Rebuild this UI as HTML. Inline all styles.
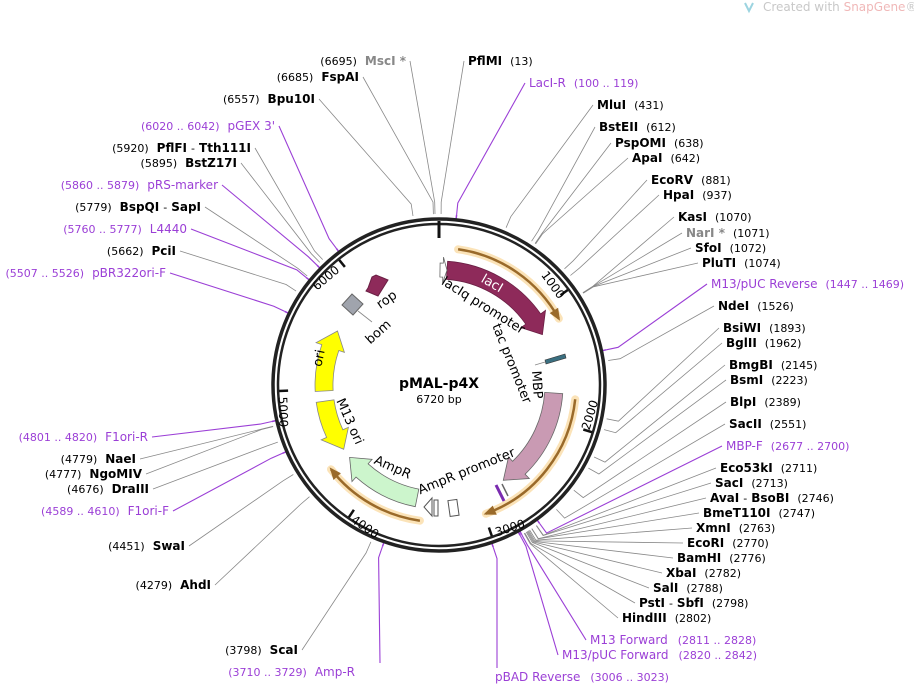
<!DOCTYPE html>
<html><head><meta charset="utf-8"><style>
html,body{margin:0;padding:0;background:#fff;}
svg{display:block;font-family:"DejaVu Sans","Liberation Sans",sans-serif;}
.b{font-weight:bold;font-size:12px;fill:#000}
.n{font-size:11px;fill:#000}
.p{fill:#9b3fd6;font-size:12px}
.pn{fill:#9b3fd6;font-size:11px}
.g{fill:#888;font-weight:bold;font-size:12px}
</style></head><body>
<svg id="s" width="914" height="685" viewBox="0 0 914 685" xmlns="http://www.w3.org/2000/svg">
<g id="lines"></g>
<g id="ring"></g>
<g id="feat"></g>
<text x="763" y="11" font-size="12" fill="#c8c8c8">Created with <tspan fill="#f0b8b8">SnapGene</tspan>®</text>
<path d="M745 3 l4 8 l4 -8" fill="none" stroke="#9cd4e0" stroke-width="2"/>

<text x="468" y="65"><tspan class="b">PflMI</tspan><tspan class="n" dx="8">(13)</tspan></text>
<text x="529" y="87"><tspan class="p">LacI-R</tspan><tspan class="pn" dx="8">(100 .. 119)</tspan></text>
<text x="597" y="109"><tspan class="b">MluI</tspan><tspan class="n" dx="8">(431)</tspan></text>
<text x="599" y="131"><tspan class="b">BstEII</tspan><tspan class="n" dx="8">(612)</tspan></text>
<text x="615" y="147"><tspan class="b">PspOMI</tspan><tspan class="n" dx="8">(638)</tspan></text>
<text x="632" y="162"><tspan class="b">ApaI</tspan><tspan class="n" dx="8">(642)</tspan></text>
<text x="651" y="184"><tspan class="b">EcoRV</tspan><tspan class="n" dx="8">(881)</tspan></text>
<text x="663" y="199"><tspan class="b">HpaI</tspan><tspan class="n" dx="8">(937)</tspan></text>
<text x="678" y="221"><tspan class="b">KasI</tspan><tspan class="n" dx="8">(1070)</tspan></text>
<text x="686" y="237"><tspan class="g">NarI *</tspan><tspan class="n" dx="8">(1071)</tspan></text>
<text x="695" y="252"><tspan class="b">SfoI</tspan><tspan class="n" dx="8">(1072)</tspan></text>
<text x="702" y="267"><tspan class="b">PluTI</tspan><tspan class="n" dx="8">(1074)</tspan></text>
<text x="711" y="288"><tspan class="p">M13/pUC Reverse</tspan><tspan class="pn" dx="8">(1447 .. 1469)</tspan></text>
<text x="718" y="310"><tspan class="b">NdeI</tspan><tspan class="n" dx="8">(1526)</tspan></text>
<text x="723" y="332"><tspan class="b">BsiWI</tspan><tspan class="n" dx="8">(1893)</tspan></text>
<text x="726" y="347"><tspan class="b">BglII</tspan><tspan class="n" dx="8">(1962)</tspan></text>
<text x="729" y="369"><tspan class="b">BmgBI</tspan><tspan class="n" dx="8">(2145)</tspan></text>
<text x="730" y="384"><tspan class="b">BsmI</tspan><tspan class="n" dx="8">(2223)</tspan></text>
<text x="730" y="406"><tspan class="b">BlpI</tspan><tspan class="n" dx="8">(2389)</tspan></text>
<text x="729" y="428"><tspan class="b">SacII</tspan><tspan class="n" dx="8">(2551)</tspan></text>
<text x="726" y="450"><tspan class="p">MBP-F</tspan><tspan class="pn" dx="8">(2677 .. 2700)</tspan></text>
<text x="720" y="472"><tspan class="b">Eco53kI</tspan><tspan class="n" dx="8">(2711)</tspan></text>
<text x="715" y="487"><tspan class="b">SacI</tspan><tspan class="n" dx="8">(2713)</tspan></text>
<text x="710" y="502"><tspan class="b">AvaI</tspan><tspan class="n" dx="4">-</tspan><tspan class="b" dx="4">BsoBI</tspan><tspan class="n" dx="8">(2746)</tspan></text>
<text x="703" y="517"><tspan class="b">BmeT110I</tspan><tspan class="n" dx="8">(2747)</tspan></text>
<text x="696" y="532"><tspan class="b">XmnI</tspan><tspan class="n" dx="8">(2763)</tspan></text>
<text x="687" y="547"><tspan class="b">EcoRI</tspan><tspan class="n" dx="8">(2770)</tspan></text>
<text x="677" y="562"><tspan class="b">BamHI</tspan><tspan class="n" dx="8">(2776)</tspan></text>
<text x="666" y="577"><tspan class="b">XbaI</tspan><tspan class="n" dx="8">(2782)</tspan></text>
<text x="653" y="592"><tspan class="b">SalI</tspan><tspan class="n" dx="8">(2788)</tspan></text>
<text x="639" y="607"><tspan class="b">PstI</tspan><tspan class="n" dx="4">-</tspan><tspan class="b" dx="4">SbfI</tspan><tspan class="n" dx="8">(2798)</tspan></text>
<text x="622" y="622"><tspan class="b">HindIII</tspan><tspan class="n" dx="8">(2802)</tspan></text>
<text x="590" y="644"><tspan class="p">M13 Forward</tspan><tspan class="pn" dx="10">(2811 .. 2828)</tspan></text>
<text x="562" y="659"><tspan class="p">M13/pUC Forward</tspan><tspan class="pn" dx="10">(2820 .. 2842)</tspan></text>
<text x="495" y="681"><tspan class="p">pBAD Reverse</tspan><tspan class="pn" dx="10">(3006 .. 3023)</tspan></text>

<g text-anchor="end">
<text x="406" y="65"><tspan class="n">(6695)</tspan><tspan class="g" dx="8">MscI *</tspan></text>
<text x="359" y="81"><tspan class="n">(6685)</tspan><tspan class="b" dx="8">FspAI</tspan></text>
<text x="315" y="103"><tspan class="n">(6557)</tspan><tspan class="b" dx="8">Bpu10I</tspan></text>
<text x="275" y="130"><tspan class="pn">(6020 .. 6042)</tspan><tspan class="p" dx="8">pGEX 3'</tspan></text>
<text x="251" y="152"><tspan class="n">(5920)</tspan><tspan class="b" dx="8">PflFI</tspan><tspan class="n" dx="4">-</tspan><tspan class="b" dx="4">Tth111I</tspan></text>
<text x="237" y="167"><tspan class="n">(5895)</tspan><tspan class="b" dx="8">BstZ17I</tspan></text>
<text x="218" y="189"><tspan class="pn">(5860 .. 5879)</tspan><tspan class="p" dx="8">pRS-marker</tspan></text>
<text x="201" y="211"><tspan class="n">(5779)</tspan><tspan class="b" dx="8">BspQI</tspan><tspan class="n" dx="4">-</tspan><tspan class="b" dx="4">SapI</tspan></text>
<text x="187" y="233"><tspan class="pn">(5760 .. 5777)</tspan><tspan class="p" dx="8">L4440</tspan></text>
<text x="176" y="255"><tspan class="n">(5662)</tspan><tspan class="b" dx="8">PciI</tspan></text>
<text x="166" y="277"><tspan class="pn">(5507 .. 5526)</tspan><tspan class="p" dx="8">pBR322ori-F</tspan></text>
<text x="148" y="441"><tspan class="pn">(4801 .. 4820)</tspan><tspan class="p" dx="8">F1ori-R</tspan></text>
<text x="136" y="463"><tspan class="n">(4779)</tspan><tspan class="b" dx="8">NaeI</tspan></text>
<text x="142" y="478"><tspan class="n">(4777)</tspan><tspan class="b" dx="8">NgoMIV</tspan></text>
<text x="149" y="493"><tspan class="n">(4676)</tspan><tspan class="b" dx="8">DraIII</tspan></text>
<text x="169" y="515"><tspan class="pn">(4589 .. 4610)</tspan><tspan class="p" dx="8">F1ori-F</tspan></text>
<text x="185" y="550"><tspan class="n">(4451)</tspan><tspan class="b" dx="8">SwaI</tspan></text>
<text x="211" y="589"><tspan class="n">(4279)</tspan><tspan class="b" dx="8">AhdI</tspan></text>
<text x="298" y="654"><tspan class="n">(3798)</tspan><tspan class="b" dx="8">ScaI</tspan></text>
<text x="355" y="676"><tspan class="pn">(3710 .. 3729)</tspan><tspan class="p" dx="8">Amp-R</tspan></text>
</g>

<text x="439" y="388" text-anchor="middle" font-weight="bold" font-size="14">pMAL-p4X</text>
<text x="439" y="403" text-anchor="middle" font-size="11">6720 bp</text>

<g font-size="12">
<text transform="translate(553,285) rotate(54)" text-anchor="middle" dy="4">1000</text>
<text transform="translate(590,415) rotate(-73)" text-anchor="middle" dy="4">2000</text>
<text transform="translate(510,528) rotate(-18)" text-anchor="middle" dy="4">3000</text>
<text transform="translate(365,527) rotate(35)" text-anchor="middle" dy="4">4000</text>
<text transform="translate(283,412) rotate(88)" text-anchor="middle" dy="4">5000</text>
<text transform="translate(326,278) rotate(-40)" text-anchor="middle" dy="4">6000</text>
</g>

<g font-size="13">
<text transform="translate(490,287) rotate(30)" text-anchor="middle" fill="#fff">lacI</text>
<text transform="translate(481,309) rotate(32)" text-anchor="middle">lacIq promoter</text>
<text transform="translate(508,365) rotate(68)" text-anchor="middle">tac promoter</text>
<text transform="translate(533,385) rotate(86)" text-anchor="middle">MBP</text>
<text transform="translate(468,475) rotate(-22)" text-anchor="middle">AmpR promoter</text>
<text transform="translate(391,471) rotate(24)" text-anchor="middle">AmpR</text>
<text transform="translate(346,423) rotate(66)" text-anchor="middle">M13 ori</text>
<text transform="translate(323,359) rotate(-78)" text-anchor="middle">ori</text>
<text transform="translate(389,303) rotate(-35)" text-anchor="middle">rop</text>
<text transform="translate(381,335) rotate(-42)" text-anchor="middle">bom</text>
</g>
</svg>
<script>
const cx=439,cy=385,N=6720,NS="http://www.w3.org/2000/svg";
function P(r,a){a=a*Math.PI/180;return [cx+r*Math.sin(a),cy-r*Math.cos(a)];}
function A(b){return b/N*360;}
function add(g,tag,at){const e=document.createElementNS(NS,tag);for(const k in at)e.setAttribute(k,at[k]);document.getElementById(g).appendChild(e);return e;}
function f(p){return p[0].toFixed(1)+" "+p[1].toFixed(1);}
const R=[[13,468,65],[110,529,87,'p'],[431,597,109],[612,599,131],[638,615,147],[642,632,162],[881,651,184],[937,663,199],[1070,678,221],[1071,686,237],[1072,695,252],[1074,702,267],[1458,711,288,'p'],[1526,718,310],[1893,723,332],[1962,726,347],[2145,729,369],[2223,730,384],[2389,730,406],[2551,729,428],[2688,726,450,'p'],[2711,720,472],[2713,715,487],[2746,710,502],[2747,703,517],[2763,696,532],[2770,687,547],[2776,677,562],[2782,666,577],[2788,653,592],[2798,639,607],[2802,622,622],[2820,590,644,'p'],[2831,562,659,'p'],[3015,495,681,'p']];
const L=[[6695,406,65],[6685,359,81],[6557,315,103],[6031,275,130,'p'],[5920,251,152],[5895,237,167],[5870,218,189,'p'],[5779,201,211],[5768,187,233,'p'],[5662,176,255],[5516,166,277,'p'],[4810,148,441,'p'],[4779,136,463],[4777,142,478],[4676,149,493],[4600,169,515,'p'],[4451,185,550],[4279,211,589],[3798,298,654],[3720,355,676,'p']];
function line(d,side){const a=A(d[0]);const p0=P(171,a),p1=P(183,a);let e;
 if(side>0) e=[d[1]-4,d[2]-4]; else e=[d[1]+4,d[2]-4];
 if(d[2]>660&&side>0) e=[d[1]+2,d[2]-13];
 if(d[2]>660&&side<0) e=[d[1]+25,d[2]-13];
 const c=d[3]=='p'?'#9b3fd6':'#888';
 add('lines','path',{d:"M"+f(p0)+" L"+f(p1)+" L"+e[0]+" "+e[1],fill:'none',stroke:c,'stroke-width':d[3]=='p'?1.1:0.8});
 if(d[3]=='p'){const q=P(166,a),q2=P(166,a+1.2);add('lines','path',{d:"M"+f(P(171,a))+" L"+f(q)+" L"+f(q2),fill:'none',stroke:c,'stroke-width':1.5});}
}
R.forEach(d=>line(d,1));L.forEach(d=>line(d,-1));
add('ring','circle',{cx,cy,r:166,fill:'none',stroke:'#222','stroke-width':3.5});
add('ring','circle',{cx,cy,r:161,fill:'none',stroke:'#222','stroke-width':2.5});
add('ring','path',{d:"M439 221 L439 238",stroke:'#111','stroke-width':3});
[1000,2000,3000,4000,5000,6000].forEach(b=>{const a=A(b);add('ring','path',{d:"M"+f(P(160,a))+" L"+f(P(151,a)),stroke:'#111','stroke-width':2.5});});
function arc(r,a1,a2){const q=P(r,a2);const big=Math.abs(a2-a1)>180?1:0;const sw=a2>a1?1:0;return "A"+r+" "+r+" 0 "+big+" "+sw+" "+f(q);}
function band(a1,a2,r1,r2,head,fill,stroke){
 const dir=a2>a1?1:-1,ah=a2-dir*head,rm=(r1+r2)/2;
 const d="M"+f(P(r2,a1))+" "+arc(r2,a1,ah)+" L"+f(P(r2+6,ah))+" L"+f(P(rm,a2))+" L"+f(P(r1-6,ah))+" L"+f(P(r1,ah))+" "+arc(r1,ah,a1)+" Z";
 add('feat','path',{d,fill,stroke:stroke||'#555','stroke-width':0.8});}
function orange(a1,a2,r){const dir=a2>a1?1:-1;const d="M"+f(P(r,a1))+" "+arc(r,a1,a2);
 add('feat','path',{d,fill:'none',stroke:'#fbe3b8','stroke-width':8,'stroke-linecap':'round'});
 add('feat','path',{d,fill:'none',stroke:'#9a6a2a','stroke-width':2.5});
 const t=P(r,a2+dir*1),b1=P(r+5,a2-dir*4),b2=P(r-5,a2-dir*4);
 add('feat','path',{d:"M"+f(t)+" L"+f(b1)+" L"+f(b2)+" Z",fill:'#9a6a2a'});}
orange(8,61,137);orange(96,160,137);orange(188,232,137);
band(4,64,106,124,9,'#8e2a5a','#6a1f44');
band(94,146,106,124,10,'#c99ab3','#666');
band(191,231,106,124,9,'#ccf5cc','#666');
band(262,236,106,124,9,'#ffff00','#888');
band(267,298,106,124,9,'#ffff00','#888');
band(0.5,4,108,122,2,'#fff','#666');
add('feat','path',{d:"M388 280 L378 296 L366 291 L368 288 L372 277 L376 275 Z",fill:'#8e2a5a',stroke:'#6a1f44'});
add('feat','path',{d:"M352 294 L363 304 L353 315 L342 305 Z",fill:'#a0a4ad',stroke:'#666'});
add('feat','path',{d:"M358 311 L372 322",stroke:'#888','stroke-width':0.8});
add('feat','path',{d:"M545 360 L565 354 L566 358 L546 364 Z",fill:'#3a6f80',stroke:'#333','stroke-width':0.6});
add('feat','path',{d:"M535 365 L545 362",stroke:'#888','stroke-width':0.8});
add('feat','path',{d:"M496 485 L504 501",stroke:'#7a2bb0','stroke-width':3});
add('feat','path',{d:"M502 484 L508 496",stroke:'#666','stroke-width':1.5});
add('feat','rect',{x:449,y:500,width:9,height:16,fill:'#fff',stroke:'#555',transform:'rotate(-8 453 508)'});
add('feat','rect',{x:434,y:500,width:4,height:16,fill:'#fff',stroke:'#555'});
add('feat','path',{d:"M432 498 L424 507 L432 516 Z",fill:'#fff',stroke:'#555'});
</script>
</body></html>
